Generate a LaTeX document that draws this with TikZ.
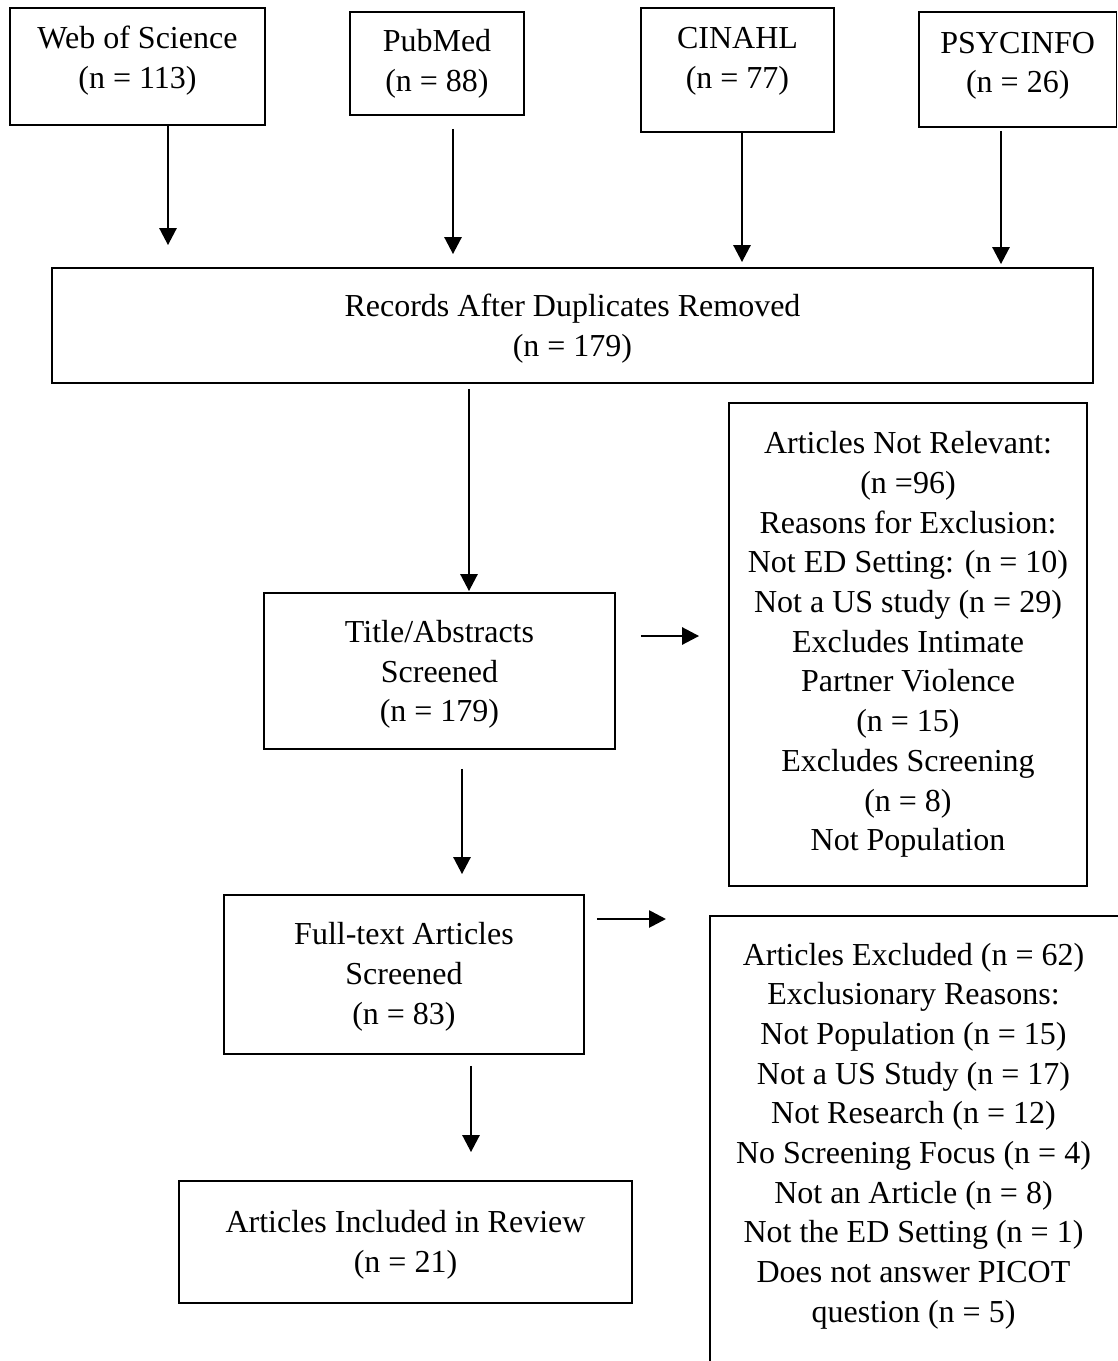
\documentclass[tikz,border=0pt]{standalone}
\usepackage{fontspec}
\setmainfont{Liberation Serif}
\usetikzlibrary{arrows.meta,positioning}

\begin{document}
\begin{tikzpicture}[
  x=0.5pt, y=-0.5pt,
  font=\fontsize{16pt}{19.85pt}\selectfont,
  box/.style={rectangle, draw, line width=0.9pt, align=center, inner sep=0pt},
  arrow/.style={-{Triangle[length=8.5pt,width=8.5pt]}, line width=1.35pt}
]
\useasboundingbox (0,0) rectangle (1118,1361);
\clip (0,0) rectangle (1118,1361);

% databases
\node[box, minimum width=127.5pt, minimum height=58.5pt, text depth=9.5pt] (wos) at (137.5,66.5) {Web of Science\\(n = 113)};
\node[box, minimum width=87pt, minimum height=51.5pt] (pubmed) at (437,63.5) {PubMed\\(n = 88)};
\node[box, minimum width=96.5pt, minimum height=62pt, text depth=12pt] (cinahl) at (737.5,70) {CINAHL\\(n = 77)};
\node[box, minimum width=98.75pt, minimum height=57.5pt, text depth=7pt] (psycinfo) at (1017.75,69.5) {PSYCINFO\\(n = 26)};

% screening steps
\node[box, minimum width=520.5pt, minimum height=57.5pt, text depth=0pt] (records) at (572.5,325.5) {Records After Duplicates Removed\\(n = 179)};
\node[box, minimum width=175.5pt, minimum height=78pt, text depth=0pt] (title) at (439.5,671) {Title/Abstracts\\Screened\\(n = 179)};
\node[box, minimum width=179pt, minimum height=241.5pt] (notrel) at (908,644.5) {Articles Not Relevant:\\(n =96)\\Reasons for Exclusion:\\Not ED Setting: (n = 10)\\Not a US study (n = 29)\\Excludes Intimate\\Partner Violence\\(n = 15)\\Excludes Screening\\(n = 8)\\Not Population};
\node[box, minimum width=180pt, minimum height=79.5pt, text depth=1pt] (fulltext) at (404,974.5) {Full-text Articles\\Screened\\(n = 83)};
\node[box, minimum width=226.5pt, minimum height=61pt, text depth=0.5pt] (included) at (405.5,1242) {Articles Included in Review\\(n = 21)};
\node[box, anchor=north west, minimum width=206pt, minimum height=240pt] (excluded) at (709,915) {};
\node[align=center] (reasons) at (913.5,1136) {Articles Excluded (n = 62)\\Exclusionary Reasons:\\Not Population (n = 15)\\Not a US Study (n = 17)\\Not Research (n = 12)\\No Screening Focus (n = 4)\\Not an Article (n = 8)\\Not the ED Setting (n = 1)\\Does not answer PICOT\\question (n = 5)};

% arrows
\draw[arrow, shorten >=11pt] (wos.south -| 168,0) -- (records.north -| 168,0);
\draw[arrow, shorten <=6.5pt, shorten >=6.5pt] (pubmed.south -| 453,0) -- (records.north -| 453,0);
\draw[arrow, shorten >=2.5pt] (cinahl.south -| 742,0) -- (records.north -| 742,0);
\draw[arrow, shorten <=1.5pt, shorten >=1.5pt] (psycinfo.south -| 1001,0) -- (records.north -| 1001,0);
\draw[arrow, shorten <=2.5pt, shorten >=0.5pt] (records.south -| 469,0) -- (title.north -| 469,0);
\draw[arrow, shorten <=12.5pt, shorten >=14.5pt] (title.east |- 0,636) -- (notrel.west |- 0,636);
\draw[arrow, shorten <=9.5pt, shorten >=10pt] (title.south -| 462,0) -- (fulltext.north -| 462,0);
\draw[arrow, shorten <=6pt, shorten >=21.5pt] (fulltext.east |- 0,919) -- (excluded.west |- 0,919);
\draw[arrow, shorten <=5.5pt, shorten >=14pt] (fulltext.south -| 471,0) -- (included.north -| 471,0);

\end{tikzpicture}
\end{document}
